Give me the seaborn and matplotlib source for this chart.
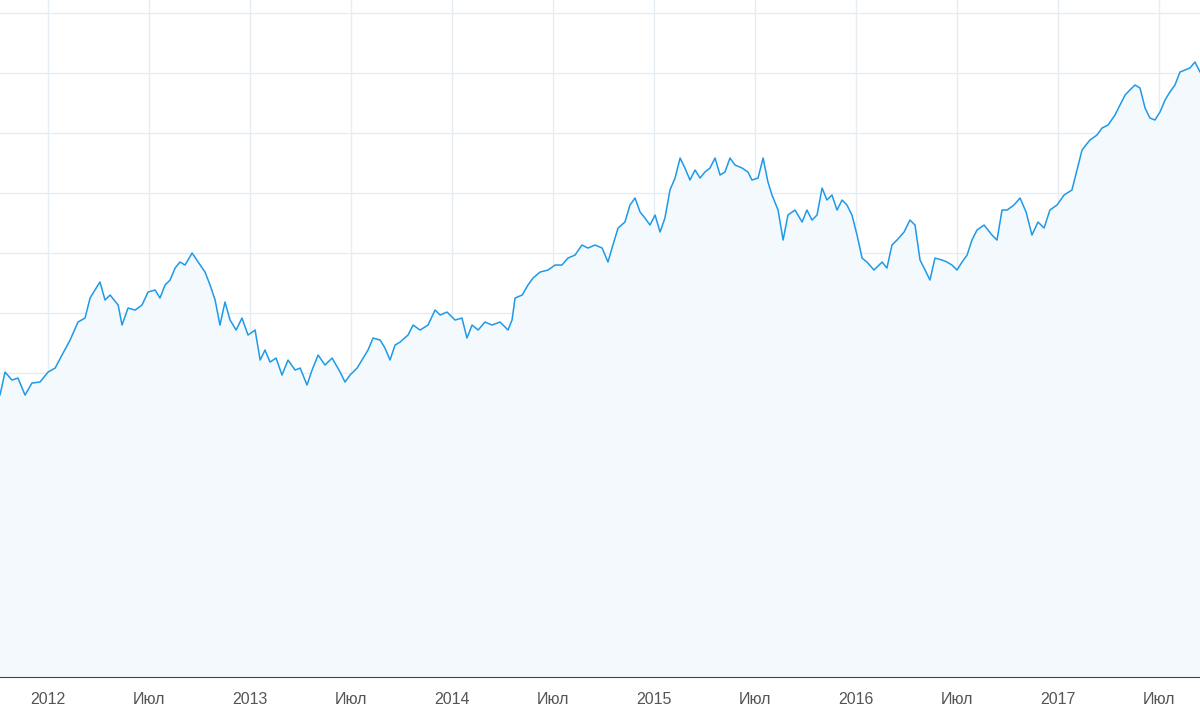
import matplotlib
matplotlib.use("Agg")
import matplotlib.pyplot as plt
import seaborn as sns
import pandas as pd

years = [2011.762,2011.787,2011.821,2011.851,2011.886,2011.920,2011.960,2012.000,2012.035,2012.069,2012.109,2012.148,2012.183,2012.208,2012.232,2012.257,2012.282,2012.307,2012.347,2012.366,2012.396,2012.431,2012.465,2012.495,2012.530,2012.554,2012.579,2012.604,2012.629,2012.653,2012.678,2012.713,2012.743,2012.777,2012.802,2012.827,2012.851,2012.876,2012.901,2012.931,2012.960,2012.990,
2013.025,2013.050,2013.074,2013.099,2013.129,2013.158,2013.188,2013.223,2013.248,2013.282,2013.307,2013.337,2013.371,2013.406,2013.446,2013.470,2013.495,2013.530,2013.554,2013.584,2013.609,2013.644,2013.668,2013.693,2013.718,2013.743,2013.782,2013.807,2013.842,2013.881,2013.916,2013.941,2013.975,
2014.015,2014.049,2014.074,2014.099,2014.129,2014.163,2014.198,2014.238,2014.277,2014.297,2014.312,2014.347,2014.376,2014.401,2014.436,2014.475,2014.510,2014.544,2014.574,2014.609,2014.643,2014.673,2014.708,2014.743,2014.772,2014.792,2014.822,2014.856,2014.881,2014.906,2014.931,2014.955,2014.980,
2015.005,2015.030,2015.054,2015.079,2015.104,2015.129,2015.153,2015.178,2015.203,2015.228,2015.252,2015.277,2015.302,2015.327,2015.351,2015.376,2015.401,2015.436,2015.465,2015.485,2015.515,2015.540,2015.564,2015.584,2015.614,2015.639,2015.663,2015.698,2015.733,2015.757,2015.782,2015.807,2015.832,2015.856,2015.881,2015.906,2015.931,2015.955,2015.980,
2016.005,2016.030,2016.054,2016.089,2016.129,2016.153,2016.178,2016.203,2016.238,2016.267,2016.292,2016.317,2016.342,2016.366,2016.391,2016.426,2016.451,2016.475,2016.500,2016.525,2016.550,2016.574,2016.599,2016.634,2016.673,2016.698,2016.723,2016.748,2016.782,2016.812,2016.842,2016.871,2016.901,2016.931,2016.960,2016.995,
2017.030,2017.069,2017.094,2017.119,2017.158,2017.193,2017.218,2017.248,2017.282,2017.307,2017.332,2017.356,2017.381,2017.406,2017.431,2017.455,2017.480,2017.505,2017.530,2017.554,2017.579,2017.604,2017.629,2017.653,2017.678,2017.703]

values = [278,301,293,295,278,290,291,301,305,318,333,351,355,375,383,391,373,378,368,348,365,363,368,381,383,375,388,393,405,411,408,420,411,401,388,373,348,371,353,343,355,338,
343,313,323,311,315,298,313,303,305,288,303,318,308,315,301,291,298,305,313,323,335,333,325,313,328,331,338,348,343,348,363,358,361,
353,355,335,348,343,351,348,351,343,353,375,378,388,395,401,403,408,408,415,418,428,425,428,425,411,425,445,451,468,475,461,455,448,
458,441,455,483,495,515,505,493,503,495,501,505,515,498,501,515,508,505,501,493,495,515,491,478,463,433,458,463,451,463,453,458,485,473,478,463,473,468,458,
438,415,411,403,411,405,428,433,441,453,448,413,403,393,415,413,411,408,403,411,418,433,443,448,438,433,463,463,468,475,461,438,451,445,463,468,
478,483,503,523,533,538,545,548,558,568,578,583,588,585,565,555,553,561,573,581,588,601,603,605,611,601]

tick_pos = [2012, 2012.5, 2013, 2013.5, 2014, 2014.5, 2015, 2015.5, 2016, 2016.5, 2017, 2017.5]
tick_labels = ["2012", "Июл", "2013", "Июл", "2014", "Июл", "2015", "Июл", "2016", "Июл", "2017", "Июл"]

n = min(len(years), len(values))
df = pd.DataFrame({"t": years[:n], "v": values[:n]})

sns.set_style("white")
fig = plt.figure(figsize=(12, 7.15), dpi=100)
ax = fig.add_axes([0, 0.053, 1, 0.947])
line_color = "#1f9ae8"
ax.fill_between(df["t"], df["v"], -10, color="#f3f9fd", zorder=1)
sns.lineplot(data=df, x="t", y="v", ax=ax, color=line_color, linewidth=1.1, zorder=3)

ax.set_xlim(2011.762, 2017.703)
ax.set_ylim(-4, 673)
ax.set_yticks(range(0, 661, 60))
ax.set_yticklabels([])
ax.set_xticks(tick_pos)
ax.set_xticklabels(tick_labels, fontsize=11.5, color="#555555", fontfamily="Liberation Sans")
ax.grid(True, color="#e6edf2", linewidth=1)
ax.tick_params(axis="y", length=0)
ax.tick_params(axis="x", length=5, color="#cccccc", pad=6)
for s in ["top", "left", "right"]:
    ax.spines[s].set_visible(False)
ax.spines["bottom"].set_color("#444444")
ax.set_xlabel("")
ax.set_ylabel("")
fig.savefig("out.png", dpi=100)
